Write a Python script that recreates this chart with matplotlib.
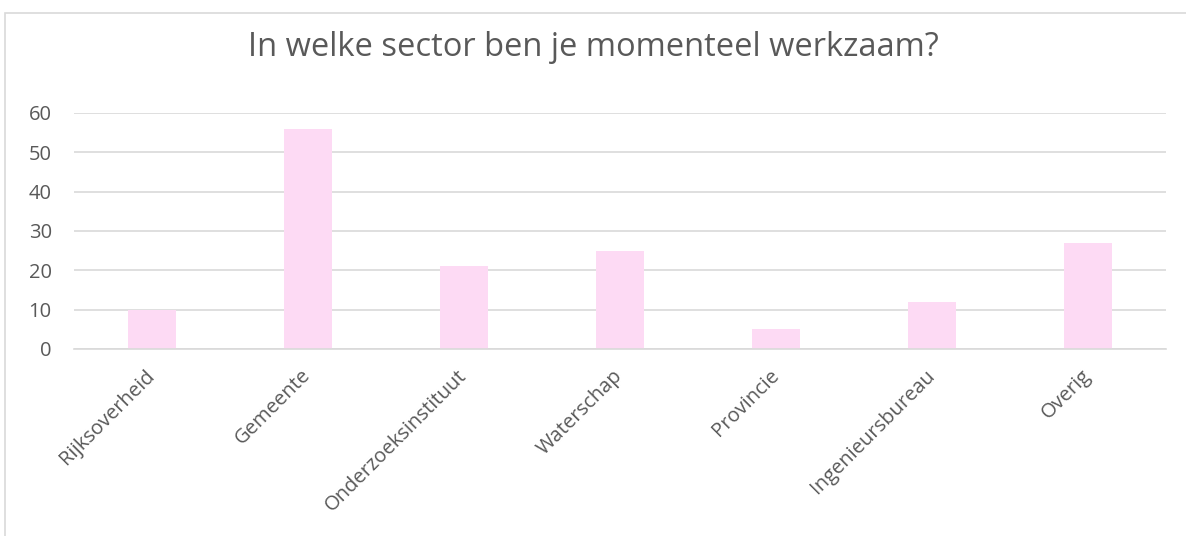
import matplotlib
matplotlib.use('Agg')
import matplotlib.pyplot as plt
from matplotlib.patches import Rectangle

plt.rcParams['font.family'] = ['Open Sans', 'DejaVu Sans']

categories = ['Rijksoverheid', 'Gemeente', 'Onderzoeksinstituut', 'Waterschap',
              'Provincie', 'Ingenieursbureau', 'Overig']
counts = [10, 56, 21, 25, 5, 12, 27]
yticks = [0, 10, 20, 30, 40, 50, 60]

text_col = '#595959'
grid_col = '#D9D9D9'
bar_col = '#FDDAF4'

fig = plt.figure(figsize=(11.86, 5.36), dpi=100)
ax = fig.add_axes([74 / 1186, 1 - 349 / 536, (1166 - 74) / 1186, (349 - 113) / 536])

x = range(len(categories))
ax.bar(x, counts, width=0.31, color=bar_col, zorder=2)
ax.set_xlim(-0.5, len(categories) - 0.5)
ax.set_ylim(0, 60)
ax.set_yticks(yticks)
ax.set_xticks(list(x))
ax.set_xticklabels(categories, rotation=45, ha='right', va='center',
                   rotation_mode='anchor', fontsize=14.5, color=text_col)
for lbl in ax.get_yticklabels():
    lbl.set_fontsize(14.5)
    lbl.set_color(text_col)
ax.tick_params(axis='both', length=0)
ax.tick_params(axis='y', pad=16)
ax.tick_params(axis='x', pad=17)
ax.grid(axis='y', color=grid_col, linewidth=1.2, zorder=0)
for s in ['top', 'right', 'left']:
    ax.spines[s].set_visible(False)
ax.spines['bottom'].set_color(grid_col)
ax.spines['bottom'].set_linewidth(1.2)

fig.text(0.5, 1 - 48 / 536, 'In welke sector ben je momenteel werkzaam?',
         ha='center', va='center', fontsize=23.5, color=text_col)

# chart area border (cut off at right and bottom)
fig.patches.append(Rectangle((4.5 / 1186, -0.05), 1.1, 1 - 13.5 / 536 + 0.05,
                             transform=fig.transFigure, fill=False,
                             edgecolor=grid_col, linewidth=1.2))

fig.savefig('out.png', dpi=100)
